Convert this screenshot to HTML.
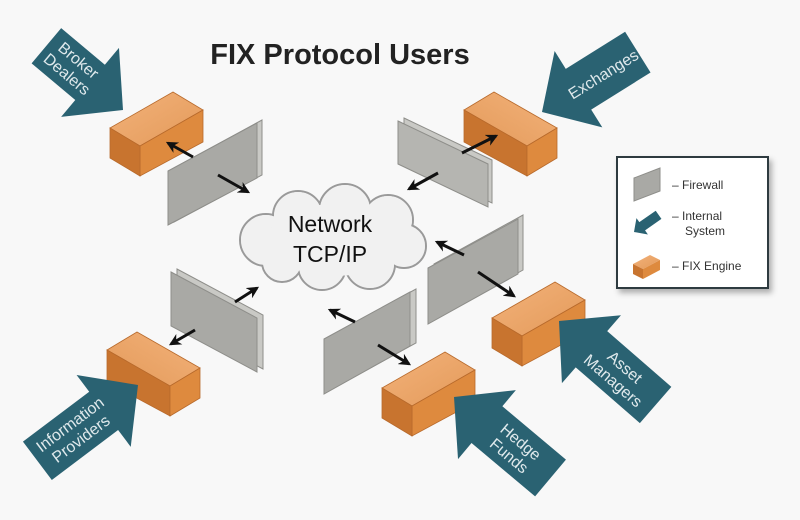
<!DOCTYPE html>
<html><head><meta charset="utf-8"><style>
html,body{margin:0;padding:0;background:#f8f8f8;}
svg{display:block;font-family:"Liberation Sans",sans-serif;}
</style></head><body>
<svg width="800" height="520" viewBox="0 0 800 520" xmlns="http://www.w3.org/2000/svg">
<defs>
<linearGradient id="top" x1="0" y1="0" x2="1" y2="1"><stop offset="0" stop-color="#f3b27a"/><stop offset="1" stop-color="#e39a5a"/></linearGradient>
<linearGradient id="cl" x1="0" y1="0" x2="0" y2="1"><stop offset="0" stop-color="#fbfbfb"/><stop offset="1" stop-color="#e6e6e6"/></linearGradient>
<marker id="ah" viewBox="0 0 10 10" refX="8" refY="5" markerWidth="4" markerHeight="4" orient="auto"><path d="M0,0 L10,5 L0,10 L3,5 z" fill="#111"/></marker>
<filter id="sh" x="-10%" y="-10%" width="130%" height="130%"><feDropShadow dx="3" dy="4" stdDeviation="3" flood-color="#000" flood-opacity="0.3"/></filter>
<g id="brick" stroke="#b86a2c" stroke-width="0.8">
<polygon points="0,0 63,-36 93,-18 30,18" fill="url(#top)"/><polygon points="30,18 93,-18 93,14 30,48" fill="#de8a3e"/><polygon points="0,0 30,18 30,48 0,30" fill="#c8742f"/>
</g>
<g id="brickm" stroke="#b86a2c" stroke-width="0.8">
<polygon points="0,0 63,-36 93,-18 30,18" fill="url(#top)"/><polygon points="30,18 93,-18 93,14 30,48" fill="#c8742f"/><polygon points="0,0 30,18 30,48 0,30" fill="#de8a3e"/>
</g>
</defs>
<rect width="800" height="520" fill="#f8f8f8"/>
<text x="340" y="64" text-anchor="middle" font-size="29" font-weight="bold" fill="#222">FIX Protocol Users</text>

<!-- cloud -->
<g stroke="#9a9a9a" stroke-width="2" fill="url(#cl)">
<circle cx="266" cy="240" r="26"/><circle cx="298" cy="216" r="25"/><circle cx="345" cy="210" r="26"/><circle cx="388" cy="220" r="25"/><circle cx="404" cy="246" r="22"/><circle cx="370" cy="264" r="25"/><circle cx="322" cy="266" r="24"/><circle cx="282" cy="262" r="20"/>
</g>
<g fill="#f1f1f1">
<circle cx="266" cy="240" r="25"/><circle cx="298" cy="216" r="24"/><circle cx="345" cy="210" r="25"/><circle cx="388" cy="220" r="24"/><circle cx="404" cy="246" r="21"/><circle cx="370" cy="264" r="24"/><circle cx="322" cy="266" r="23"/><circle cx="282" cy="262" r="19"/>
<ellipse cx="335" cy="240" rx="68" ry="36"/>
</g>
<text x="330" y="232" text-anchor="middle" font-size="23" fill="#111">Network</text>
<text x="330" y="262" text-anchor="middle" font-size="23" fill="#111">TCP/IP</text>

<!-- walls -->
<g fill="#a9a9a5" stroke="#8e8e8a" stroke-width="1">
<polygon points="174,168 262,120 262,175 174,222" fill="#c9c9c5"/>
<polygon points="168,171 257,123 257,178 168,225"/>
<polygon points="404,118 492,160 492,203 404,162" fill="#c9c9c5"/>
<polygon points="398,121 488,164 488,207 398,164" fill="#b5b5b1"/>
<polygon points="434,264 523,215 523,270 434,320" fill="#c9c9c5"/>
<polygon points="428,268 518,219 518,274 428,324"/>
<polygon points="330,336 416,289 416,343 330,390" fill="#c9c9c5"/>
<polygon points="324,339 410,292 410,346 324,394"/>
<polygon points="177,269 263,315 263,369 177,323" fill="#c9c9c5"/>
<polygon points="171,272 257,318 257,372 171,326"/>
</g>

<!-- bricks -->
<use href="#brick" transform="translate(110,128)"/>
<use href="#brickm" transform="translate(557,128) scale(-1,1)"/>
<use href="#brick" transform="translate(492,318)"/>
<use href="#brick" transform="translate(382,388)"/>
<use href="#brickm" transform="translate(200,368) scale(-1,1)"/>

<!-- connectors -->
<g stroke="#111" stroke-width="3" marker-end="url(#ah)">
<line x1="193" y1="157" x2="168" y2="143"/>
<line x1="218" y1="175" x2="248" y2="192"/>
<line x1="438" y1="173" x2="409" y2="189"/>
<line x1="462" y1="153" x2="496" y2="136"/>
<line x1="464" y1="255" x2="437" y2="242"/>
<line x1="478" y1="272" x2="514" y2="296"/>
<line x1="355" y1="322" x2="330" y2="310"/>
<line x1="378" y1="345" x2="409" y2="364"/>
<line x1="235" y1="302" x2="257" y2="288"/>
<line x1="195" y1="330" x2="171" y2="344"/>
</g>

<!-- big arrows -->
<g fill="#2a6272" font-size="16" text-anchor="middle">
<g transform="translate(123,110) rotate(40)"><polygon points="0,0 -43,-45 -43,-23 -100,-23 -100,23 -43,23 -43,45"/>
<text x="-66" y="-4" fill="#dfe9ec">Broker</text><text x="-66" y="14" fill="#dfe9ec">Dealers</text></g>
<g transform="translate(542,112) rotate(148)"><polygon points="0,0 -43,-45 -43,-24 -113,-24 -113,24 -43,24 -43,45"/>
<text transform="rotate(180)" x="72" y="6" fill="#dfe9ec">Exchanges</text></g>
<g transform="translate(559,321) rotate(221)"><polygon points="0,0 -43,-45 -43,-24 -128,-24 -128,24 -43,24 -43,45"/>
<text transform="rotate(180)" x="80" y="-3" fill="#dfe9ec">Asset</text><text transform="rotate(180)" x="80" y="15" fill="#dfe9ec">Managers</text></g>
<g transform="translate(454,397) rotate(220)"><polygon points="0,0 -43,-45 -43,-24 -126,-24 -126,24 -43,24 -43,45"/>
<text transform="rotate(180)" x="80" y="-3" fill="#dfe9ec">Hedge</text><text transform="rotate(180)" x="80" y="15" fill="#dfe9ec">Funds</text></g>
<g transform="translate(138,385) rotate(-37)"><polygon points="0,0 -43,-45 -43,-24 -126,-24 -126,24 -43,24 -43,45"/>
<text x="-78" y="-4" fill="#dfe9ec">Information</text><text x="-78" y="14" fill="#dfe9ec">Providers</text></g>
</g>

<!-- legend -->
<rect x="617" y="157" width="151" height="131" fill="#fff" stroke="#2d3a40" stroke-width="2" filter="url(#sh)"/>
<polygon points="634,178 660,168 660,191 634,201" fill="#a9a9a5" stroke="#8e8e8a"/>
<text x="672" y="189" font-size="12" fill="#333">– Firewall</text>
<g transform="translate(634,232) rotate(-35)"><polygon points="0,0 10,-10 10,-5 30,-5 30,5 10,5 10,10" fill="#2a6272"/></g>
<text x="672" y="220" font-size="12" fill="#333">– Internal</text>
<text x="685" y="235" font-size="12" fill="#333">System</text>
<g transform="translate(633,264)"><polygon points="0,0 17,-9 27,-4 10,5" fill="url(#top)"/><polygon points="10,5 27,-4 27,6 10,15" fill="#de8a3e"/><polygon points="0,0 10,5 10,15 0,10" fill="#c8742f"/></g>
<text x="672" y="270" font-size="12" fill="#333">– FIX Engine</text>
</svg>
</body></html>
